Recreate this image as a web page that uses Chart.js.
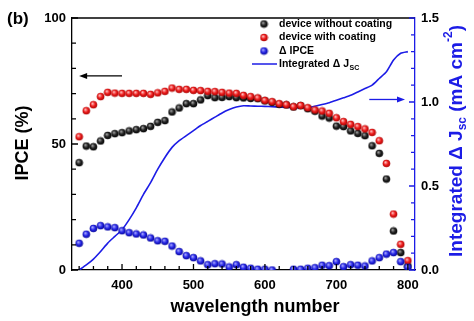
<!DOCTYPE html>
<html>
<head>
<meta charset="utf-8">
<script src="https://cdn.jsdelivr.net/npm/chart.js@4/dist/chart.umd.min.js"></script>
<style>
  body { margin: 0; background: #fff; }
</style>
</head>
<body>
<canvas id="ipcechart" width="474" height="321"></canvas>
<script>
// data
const wavelength = [340, 350, 360, 370, 380, 390, 400, 410, 420, 430,
  440, 450, 460, 470, 480, 490, 500, 510, 520, 530,
  540, 550, 560, 570, 580, 590, 600, 610, 620, 630,
  640, 650, 660, 670, 680, 690, 700, 710, 720, 730,
  740, 750, 760, 770, 780, 790, 800];
const noCoating = [42.6, 49.2, 48.9, 51.2, 53.4, 54.1, 54.5, 55.2, 55.7, 56.1,
  57.0, 58.6, 59.3, 62.7, 64.3, 66.0, 66.0, 67.5, 69.2, 68.4,
  68.5, 68.8, 68.4, 68.3, 68.1, 68.0, 67.1, 66.5, 65.7, 65.5,
  64.7, 65.2, 64.0, 63.0, 61.1, 60.3, 57.1, 56.9, 55.2, 54.2,
  53.3, 49.3, 46.3, 36.1, 15.5, 6.9, 1.6];
const withCoating = [52.9, 63.2, 65.6, 68.8, 70.5, 70.2, 70.1, 70.1, 70.1, 70.1,
  69.7, 70.3, 70.9, 72.2, 71.7, 71.7, 71.3, 71.2, 70.9, 70.8,
  70.5, 70.2, 70.1, 69.3, 68.8, 68.3, 67.3, 66.8, 66.0, 65.6,
  64.8, 65.3, 64.4, 63.5, 63.1, 62.2, 60.4, 58.9, 57.8, 56.9,
  56.0, 54.6, 51.3, 42.3, 22.2, 10.2, 3.7];
const deltaIpce = [10.6, 14.2, 16.5, 17.6, 17.1, 16.8, 15.6, 14.8, 14.3, 13.9,
  12.7, 11.6, 11.4, 9.5, 7.3, 5.7, 4.9, 3.6, 2.1, 2.5,
  2.4, 1.2, 2.1, 1.1, 0.7, 0.3, 0.3, 0.0, null, null,
  0.3, 0.3, 0.7, 0.9, 1.9, 1.7, 3.3, 1.3, 2.1, 1.9,
  1.6, 3.6, 4.9, 6.3, 6.9, 3.3, 1.1];
const integratedJsc = [0.0, 0.03, 0.065, 0.11, 0.16, 0.20, 0.24, 0.30, 0.37, 0.45,
  0.52, 0.60, 0.67, 0.73, 0.77, 0.80, 0.83, 0.86, 0.885, 0.91,
  0.935, 0.955, 0.97, 0.978, 0.976, 0.975, 0.974, 0.972, 0.970, 0.969,
  0.967, 0.966, 0.967, 0.975, 0.985, 0.996, 1.01, 1.025, 1.04, 1.06,
  1.08, 1.10, 1.14, 1.18, 1.25, 1.29, 1.30];

const wavelengthTicks = [400, 500, 600, 700, 800];
const ipceTicks = [0, 50, 100];
const jscTicks = [0.0, 0.5, 1.0, 1.5];

const FONT = "'Liberation Sans', Arial, sans-serif";
const BLUE = '#1c1ce6';

// little shaded balls like the original markers
function makeBall(light, base, dark) {
  const c = document.createElement('canvas');
  c.width = 9; c.height = 9;
  const g = c.getContext('2d');
  const grad = g.createRadialGradient(3.4, 3.2, 0.2, 4.5, 4.5, 4.2);
  grad.addColorStop(0, light);
  grad.addColorStop(0.5, base);
  grad.addColorStop(1, dark);
  g.fillStyle = grad;
  g.beginPath();
  g.arc(4.5, 4.5, 3.8, 0, Math.PI * 2);
  g.fill();
  return c;
}
const blackBall = makeBall('#a8a8a8', '#222', '#000');
const redBall = makeBall('#ffc8c8', '#ee1c1c', '#a00000');
const blueBall = makeBall('#b0b0ff', '#2828e8', '#00008c');

const toXY = (arr) => wavelength.map((w, i) => ({ x: w, y: arr[i] }));

function textRun(ctx, segs, x, y) {
  let total = 0;
  segs.forEach(s => { ctx.font = s[1]; total += ctx.measureText(s[0]).width; });
  let cx = x - total / 2;
  segs.forEach(s => {
    ctx.font = s[1];
    ctx.fillText(s[0], cx, y + s[2]);
    cx += ctx.measureText(s[0]).width;
  });
}

function arrow(ctx, x1, y, x2, color) {
  const dir = Math.sign(x2 - x1);
  ctx.strokeStyle = color; ctx.fillStyle = color; ctx.lineWidth = 1.3;
  ctx.beginPath(); ctx.moveTo(x1, y); ctx.lineTo(x2 - dir * 6, y); ctx.stroke();
  ctx.beginPath();
  ctx.moveTo(x2, y); ctx.lineTo(x2 - dir * 8, y - 3); ctx.lineTo(x2 - dir * 8, y + 3);
  ctx.closePath(); ctx.fill();
}

const decor = {
  id: 'decor',
  afterDraw(chart) {
    const { ctx, chartArea: a, scales } = chart;
    const xs = scales.x, yl = scales.y, yr = scales.y1;
    ctx.save();

    // frame top
    ctx.strokeStyle = '#000'; ctx.lineWidth = 1.3;
    ctx.beginPath(); ctx.moveTo(a.left, a.top); ctx.lineTo(a.right, a.top); ctx.stroke();

    // inward ticks
    ctx.beginPath();
    for (let v = 0; v <= 100; v += 10) {
      const y = yl.getPixelForValue(v);
      ctx.moveTo(a.left, y); ctx.lineTo(a.left + (v % 50 === 0 ? 6 : 4), y);
    }
    for (let w = 340; w <= 800; w += 20) {
      const x = xs.getPixelForValue(w);
      ctx.moveTo(x, a.bottom); ctx.lineTo(x, a.bottom - (w % 100 === 0 ? 6 : 4));
    }
    ctx.stroke();
    ctx.strokeStyle = BLUE;
    ctx.beginPath();
    for (let k = 0; k <= 15; k++) {
      const y = yr.getPixelForValue(k / 10);
      ctx.moveTo(a.right, y); ctx.lineTo(a.right - (k % 5 === 0 ? 6 : 4), y);
    }
    ctx.stroke();

    // arrows
    arrow(ctx, xs.getPixelForValue(400), yl.getPixelForValue(77), xs.getPixelForValue(340), '#000');
    arrow(ctx, xs.getPixelForValue(746), yr.getPixelForValue(1.015), xs.getPixelForValue(796), BLUE);

    // legend
    const lx = 264, rows = [24, 37.5, 51, 64];
    const balls = [blackBall, redBall, blueBall];
    const names = ['device without coating', 'device with coating', '\u0394 IPCE'];
    ctx.fillStyle = '#000'; ctx.textBaseline = 'middle'; ctx.textAlign = 'left';
    ctx.font = 'bold 10.5px ' + FONT;
    for (let i = 0; i < 3; i++) {
      ctx.drawImage(balls[i], lx - 4.5, rows[i] - 4.5);
      ctx.fillText(names[i], 279, rows[i]);
    }
    ctx.strokeStyle = BLUE; ctx.lineWidth = 1.5;
    ctx.beginPath(); ctx.moveTo(252, rows[3]); ctx.lineTo(277, rows[3]); ctx.stroke();
    ctx.fillText('Integrated \u0394 J', 279, rows[3]);
    const jw = ctx.measureText('Integrated \u0394 J').width;
    ctx.font = 'bold 7px ' + FONT;
    ctx.fillText('SC', 279 + jw + 0.5, rows[3] + 4);

    // panel label
    ctx.font = 'bold 17px ' + FONT;
    ctx.fillText('(b)', 7, 19);

    // axis titles
    ctx.fillStyle = '#000';
    ctx.textAlign = 'left';
    textRun(ctx, [['wavelength number', 'bold 18px ' + FONT, 0]], 255, 307);

    ctx.save();
    ctx.translate(23, 143);
    ctx.rotate(-Math.PI / 2);
    textRun(ctx, [['IPCE (%)', 'bold 18px ' + FONT, 0]], 0, 0);
    ctx.restore();

    ctx.save();
    ctx.fillStyle = BLUE;
    ctx.translate(457, 141);
    ctx.rotate(-Math.PI / 2);
    const big = 'bold 19px ' + FONT, small = 'bold 12px ' + FONT;
    textRun(ctx, [
      ['Integrated \u0394 J', big, 0],
      ['sc', small, 6],
      [' (mA cm', big, 0],
      ['-2', small, -8],
      [')', big, 0]
    ], 0, 0);
    ctx.restore();

    ctx.restore();
  }
};

new Chart('ipcechart', {
  type: 'line',
  data: {
    datasets: [
      {
        label: 'Integrated \u0394 Jsc',
        data: toXY(integratedJsc),
        yAxisID: 'y1',
        borderColor: BLUE,
        borderWidth: 1.6,
        pointRadius: 0,
        showLine: true,
        tension: 0.2,
        order: 4
      },
      {
        label: 'device without coating',
        data: toXY(noCoating),
        yAxisID: 'y',
        showLine: false,
        pointStyle: blackBall,
        order: 3
      },
      {
        label: 'device with coating',
        data: toXY(withCoating),
        yAxisID: 'y',
        showLine: false,
        pointStyle: redBall,
        order: 2
      },
      {
        label: '\u0394 IPCE',
        data: toXY(deltaIpce),
        yAxisID: 'y',
        showLine: false,
        pointStyle: blueBall,
        order: 1
      }
    ]
  },
  options: {
    responsive: false,
    animation: false,
    events: [],
    layout: { padding: { top: 18, left: 0, right: 0, bottom: 0 } },
    plugins: { legend: { display: false }, tooltip: { enabled: false } },
    scales: {
      x: {
        type: 'linear',
        min: 330,
        max: 810,
        grid: { display: false, drawTicks: false },
        border: { display: true, color: '#000', width: 1.3 },
        afterBuildTicks: (s) => { s.ticks = wavelengthTicks.map(v => ({ value: v })); },
        ticks: { color: '#000', padding: 8, font: { family: FONT, size: 13, weight: 'bold' } },
        afterFit: (s) => { s.height = 51; }
      },
      y: {
        position: 'left',
        min: 0,
        max: 100,
        grid: { display: false, drawTicks: false },
        border: { display: true, color: '#000', width: 1.3 },
        afterBuildTicks: (s) => { s.ticks = ipceTicks.map(v => ({ value: v })); },
        ticks: { color: '#000', padding: 6, font: { family: FONT, size: 13, weight: 'bold' } },
        afterFit: (s) => { s.width = 72; }
      },
      y1: {
        position: 'right',
        min: 0,
        max: 1.5,
        grid: { display: false, drawTicks: false },
        border: { display: true, color: BLUE, width: 1.3 },
        afterBuildTicks: (s) => { s.ticks = jscTicks.map(v => ({ value: v })); },
        ticks: {
          color: '#000', padding: 6,
          font: { family: FONT, size: 13, weight: 'bold' },
          callback: (v) => Number(v).toFixed(1)
        },
        afterFit: (s) => { s.width = 59; }
      }
    }
  },
  plugins: [decor]
});
</script>
</body>
</html>
